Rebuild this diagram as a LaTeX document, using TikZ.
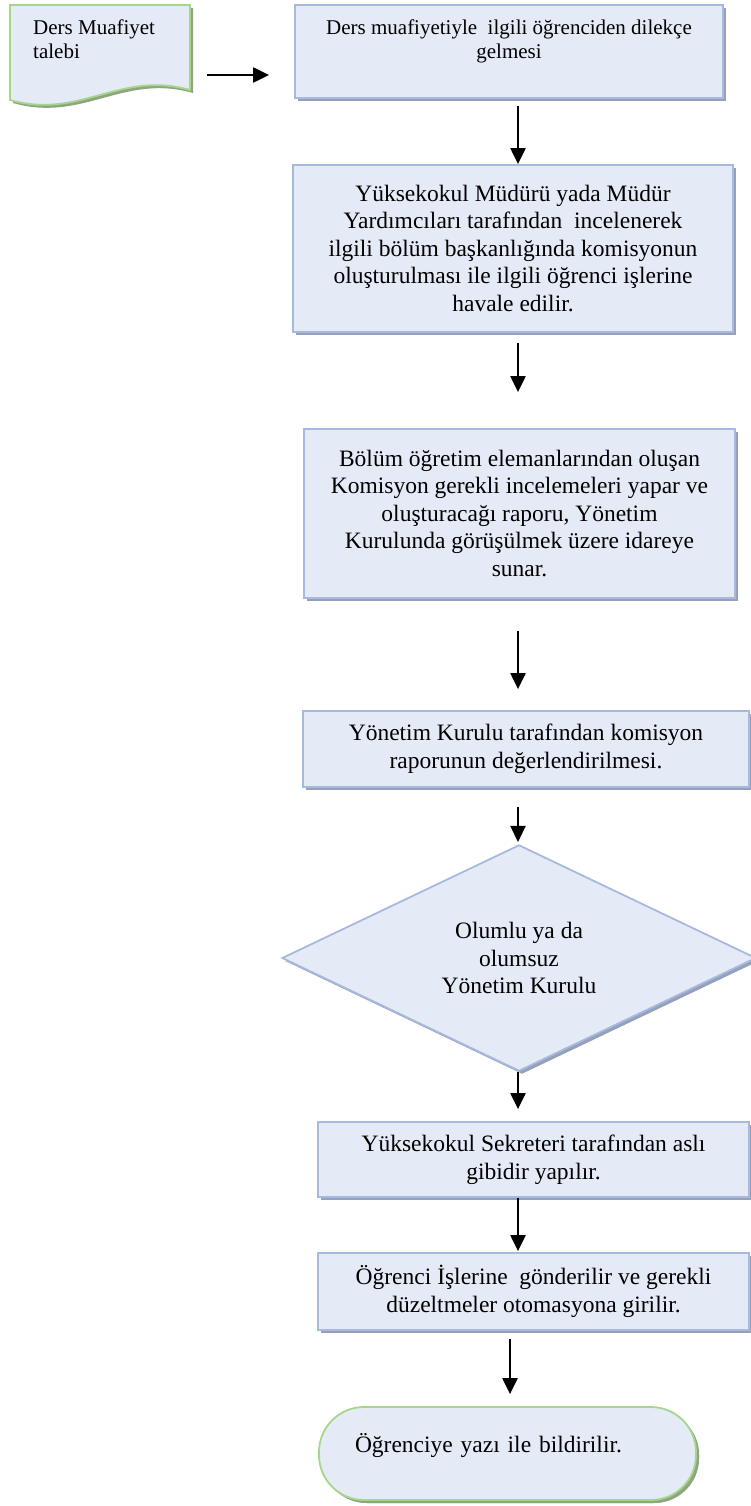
\documentclass[tikz,border=0pt]{standalone}
\usepackage{fontspec}
\setmainfont{Liberation Serif}
\usetikzlibrary{arrows.meta,shadows,shapes.geometric}
\definecolor{boxfill}{HTML}{E5EBF6}
\definecolor{boxline}{HTML}{A7B9DF}
\definecolor{boxshadow}{HTML}{97A0BA}
\definecolor{greenline}{HTML}{A5D68B}
\definecolor{greenshadow}{HTML}{8DA67F}
\begin{document}
\begin{tikzpicture}[x=1pt,y=-1pt,
  box/.style={draw=boxline, line width=1.8pt, fill=boxfill, align=center, inner sep=0pt,
    drop shadow={shadow xshift=3pt, shadow yshift=-3pt, fill=boxshadow, opacity=1},
    font=\fontsize{23.5}{27.5}\selectfont},
  smallbox/.style={box, font=\fontsize{21}{24}\selectfont},
  term/.style={box, draw=greenline, rounded corners=45pt,
    drop shadow={shadow xshift=3pt, shadow yshift=-3pt, fill=greenshadow, opacity=1},
    text width=305pt, align=left, text depth=22pt},
  arr/.style={line width=2.2pt, -{Triangle[length=16pt,width=15pt]}}]
\useasboundingbox (0,0) rectangle (751,1506);
%
\draw[draw=greenline, line width=1.8pt, fill=boxfill,
  drop shadow={shadow xshift=3pt, shadow yshift=-3pt, fill=greenshadow, opacity=1}]
  (10,5) -- (190,5) -- (190,90) .. controls (120,70) and (80,120) .. (10,100) -- cycle;
\node[font=\fontsize{21}{24}\selectfont, align=left, anchor=west, inner sep=0pt] (doc) at (33,39) {Ders Muafiyet\\talebi};
\coordinate (docr) at (190,75);
%
\node[smallbox, minimum width=428pt, minimum height=93pt] (b1) at (509,51.5)
  {Ders muafiyetiyle~ ilgili öğrenciden dilekçe\\gelmesi\\ \mbox{}};
\node[box, minimum width=440pt, minimum height=167pt] (b2) at (513,248.5)
  {Yüksekokul Müdürü yada Müdür\\Yardımcıları tarafından~ incelenerek\\ilgili bölüm başkanlığında komisyonun\\oluşturulması ile ilgili öğrenci işlerine\\havale edilir.};
\node[box, minimum width=431pt, minimum height=169pt] (b3) at (519.5,513.5)
  {Bölüm öğretim elemanlarından oluşan\\Komisyon gerekli incelemeleri yapar ve\\oluşturacağı raporu, Yönetim\\Kurulunda görüşülmek üzere idareye\\sunar.};
\node[box, minimum width=446pt, minimum height=76pt] (b4) at (526,749)
  {Yönetim Kurulu tarafından komisyon\\raporunun değerlendirilmesi.};
\node[box, shape=diamond, minimum width=474pt, minimum height=187pt] (karar) at (519,958)
  {Olumlu ya da\\olumsuz\\Yönetim Kurulu};
\node[box, minimum width=431pt, minimum height=75pt] (b5) at (533.5,1159.5)
  {Yüksekokul Sekreteri tarafından aslı\\gibidir yapılır.};
\node[box, minimum width=431pt, minimum height=77pt] (b6) at (533.5,1291.5)
  {Öğrenci İşlerine~ gönderilir ve gerekli\\düzeltmeler otomasyona girilir.};
\node[term, minimum width=377pt, minimum height=93pt] (son) at (507.5,1453.5)
  {Öğrenciye yazı ile bildirilir.};
%
\coordinate (ax) at (518,0);
\coordinate (bx) at (510,0);
\draw[arr, shorten <=17pt, shorten >=25pt] (docr) -- (docr -| b1.west);
\draw[arr, shorten <=7pt] (b1.south -| ax) -- (b2.north -| ax);
\draw[arr, shorten <=10pt, shorten >=36pt] (b2.south -| ax) -- (b3.north -| ax);
\draw[arr, shorten <=32pt, shorten >=21pt] (b3.south -| ax) -- (b4.north -| ax);
\draw[arr, shorten <=19pt, shorten >=2pt] (b4.south -| ax) -- (karar.north -| ax);
\draw[arr, shorten >=12pt] (karar.south -| ax) -- (b5.north -| ax);
\draw[arr, shorten >=1pt] (b5.south -| ax) -- (b6.north -| ax);
\draw[arr, shorten <=8pt, shorten >=12pt] (b6.south -| bx) -- (son.north -| bx);
%
\end{tikzpicture}
\end{document}
